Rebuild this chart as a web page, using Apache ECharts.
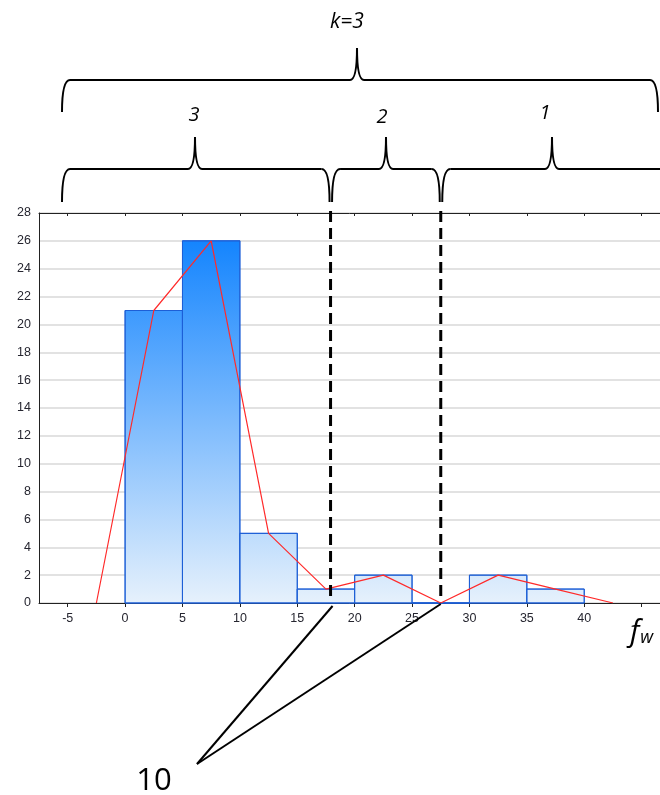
<!DOCTYPE html>
<html>
<head>
<meta charset="utf-8">
<script src="https://cdn.jsdelivr.net/npm/echarts@6/dist/echarts.min.js"></script>
<style>
html,body{margin:0;padding:0;background:#fff;}
#c{width:660px;height:795px;}
</style>
</head>
<body>
<div id="c"></div>
<script>
// ---- data ----
const binStarts = [0, 5, 10, 15, 20, 25, 30, 35];
const binWidth = 5;
const counts = [21, 26, 5, 1, 2, 0, 2, 1];
const polyX = [-2.5, 2.5, 7.5, 12.5, 17.5, 22.5, 27.5, 32.5, 37.5, 42.5];
const polyY = [0, 21, 26, 5, 1, 2, 0, 2, 1, 0];
const xLabelValues = [-5, 0, 5, 10, 15, 20, 25, 30, 35, 40];
const xTickValues = [-5, 0, 5, 10, 15, 20, 25, 30, 35, 40, 45];
const dividers = [17.9, 27.5];
const groupLabels = ['3', '2', '1'];
const topLabel = 'k=3';
const pointerLabel = '10';

const chart = echarts.init(document.getElementById('c'), null, {renderer: 'canvas'});

const barData = binStarts.map((s, i) => [s, s + binWidth, counts[i]]);
const lineData = polyX.map((x, i) => [x, polyY[i]]);

const grad = new echarts.graphic.LinearGradient(0, 242, 0, 603, [
  {offset: 0, color: '#1585fe'},
  {offset: 1, color: '#e6f1fc'}
], true);

const labelFont = {color: '#262630', fontSize: 12.5, fontFamily: 'Liberation Sans'};

const option = {
  animation: false,
  backgroundColor: '#fff',
  grid: {left: 39, right: 0, top: 213, bottom: 192},
  xAxis: [{
    type: 'value', min: -7.5, max: 46.6, position: 'bottom',
    axisLine: {show: true, onZero: false, lineStyle: {color: '#222', width: 1}},
    axisTick: {show: true, customValues: xTickValues, length: 4, lineStyle: {color: '#222'}},
    axisLabel: Object.assign({show: true, customValues: xLabelValues, margin: 9}, labelFont),
    splitLine: {show: false}
  }, {
    type: 'value', min: -7.5, max: 46.6, position: 'top',
    axisLine: {show: true, onZero: false, lineStyle: {color: '#222', width: 1}},
    axisTick: {show: true, inside: true, customValues: xTickValues, length: 3, lineStyle: {color: '#222'}},
    axisLabel: {show: false},
    splitLine: {show: false}
  }],
  yAxis: {
    type: 'value', min: 0, max: 28, interval: 2,
    axisLine: {show: true, onZero: false, lineStyle: {color: '#222', width: 1}},
    axisTick: {show: false},
    axisLabel: Object.assign({margin: 8}, labelFont),
    splitLine: {show: true, lineStyle: {color: '#e2e2e2', width: 2}}
  },
  series: [{
    type: 'custom',
    data: barData,
    encode: {x: [0, 1], y: 2},
    renderItem: function (params, api) {
      const p0 = api.coord([api.value(0), api.value(2)]);
      const p1 = api.coord([api.value(1), 0]);
      return {
        type: 'rect',
        shape: {x: p0[0], y: p0[1], width: p1[0] - p0[0], height: p1[1] - p0[1]},
        style: {fill: grad, stroke: '#1d5fd6', lineWidth: 1}
      };
    },
    z: 2
  }, {
    type: 'line',
    data: lineData,
    showSymbol: false,
    symbol: 'none',
    lineStyle: {color: '#ff2a2a', width: 1.2},
    z: 3
  }]
};
chart.setOption(option);

// ---- annotations (braces, dividers, pointer) ----
const xd1 = chart.convertToPixel({xAxisIndex: 0}, dividers[0]);
const xd2 = chart.convertToPixel({xAxisIndex: 0}, dividers[1]);
const yBase = chart.convertToPixel({yAxisIndex: 0}, 0);
const yTopPlot = chart.convertToPixel({yAxisIndex: 0}, 28);

const elements = [];
const bstyle = {stroke: '#000', lineWidth: 2, fill: null};
function curve(x1, y1, cx, cy, x2, y2) {
  elements.push({type: 'bezierCurve', shape: {x1: x1, y1: y1, x2: x2, y2: y2, cpx1: cx, cpy1: cy}, style: bstyle, z: 10});
}
function seg(x1, y1, x2, y2) {
  elements.push({type: 'line', shape: {x1: x1, y1: y1, x2: x2, y2: y2}, style: bstyle, z: 10});
}
function brace(xa, xb, xm, yLine, yEnd, yTip, r) {
  curve(xa, yEnd, xa, yLine, xa + r, yLine);
  seg(xa + r, yLine, xm - 7, yLine);
  curve(xm - 7, yLine, xm, yLine, xm, yTip);
  curve(xm, yTip, xm, yLine, xm + 7, yLine);
  seg(xm + 7, yLine, xb - r, yLine);
  curve(xb - r, yLine, xb, yLine, xb, yEnd);
}

const leftEnd = 62, rightEnd = 658;
// big brace
brace(leftEnd, rightEnd, 357, 80, 112, 48, 8);
// small braces
const mids = [195, 386, 552];
const ends = [[leftEnd, xd1 - 1], [xd1 + 1.5, xd2 - 1], [xd2 + 1.5, rightEnd + 10]];
ends.forEach((e, i) => brace(e[0], e[1], mids[i], 169, 202, 137, 8));

// labels
elements.push({type: 'text', x: 347, y: 22, style: {text: topLabel, fontFamily: 'Open Sans', fontStyle: 'italic', fontSize: 21, fill: '#000', align: 'center', verticalAlign: 'middle'}});
const labelX = [194, 382, 545];
const labelY = [115, 117, 113];
groupLabels.forEach((t, i) => {
  elements.push({type: 'text', x: labelX[i], y: labelY[i], style: {text: t, fontFamily: 'Open Sans', fontStyle: 'italic', fontSize: 20, fill: '#000', align: 'center', verticalAlign: 'middle'}});
});
// dashed divider lines
[xd1, xd2].forEach(x => {
  elements.push({type: 'line', shape: {x1: x, y1: yTopPlot - 2, x2: x, y2: yBase - 3},
    style: {stroke: '#000', lineWidth: 3, lineDash: [11, 6]}, z: 10});
});
// pointer lines
const vx = 197, vy = 764;
elements.push({type: 'line', shape: {x1: vx, y1: vy, x2: xd1 + 2, y2: yBase + 3}, style: {stroke: '#000', lineWidth: 2}, z: 10});
elements.push({type: 'line', shape: {x1: vx, y1: vy, x2: xd2, y2: yBase + 1}, style: {stroke: '#000', lineWidth: 2}, z: 10});
elements.push({type: 'text', x: 154, y: 781, style: {text: pointerLabel, fontFamily: 'Open Sans', fontSize: 31, fill: '#000', align: 'center', verticalAlign: 'middle'}});
// axis name f_w
elements.push({type: 'text', x: 630, y: 632, style: {
  text: '{f|f}{w|w}', align: 'left', verticalAlign: 'middle',
  rich: {
    f: {fontFamily: 'Open Sans', fontStyle: 'italic', fontSize: 30, fill: '#000'},
    w: {fontFamily: 'Open Sans', fontStyle: 'italic', fontSize: 18, fill: '#000', padding: [12, 0, 0, 1]}
  }
}});

chart.setOption({graphic: {elements: elements}});
</script>
</body>
</html>
